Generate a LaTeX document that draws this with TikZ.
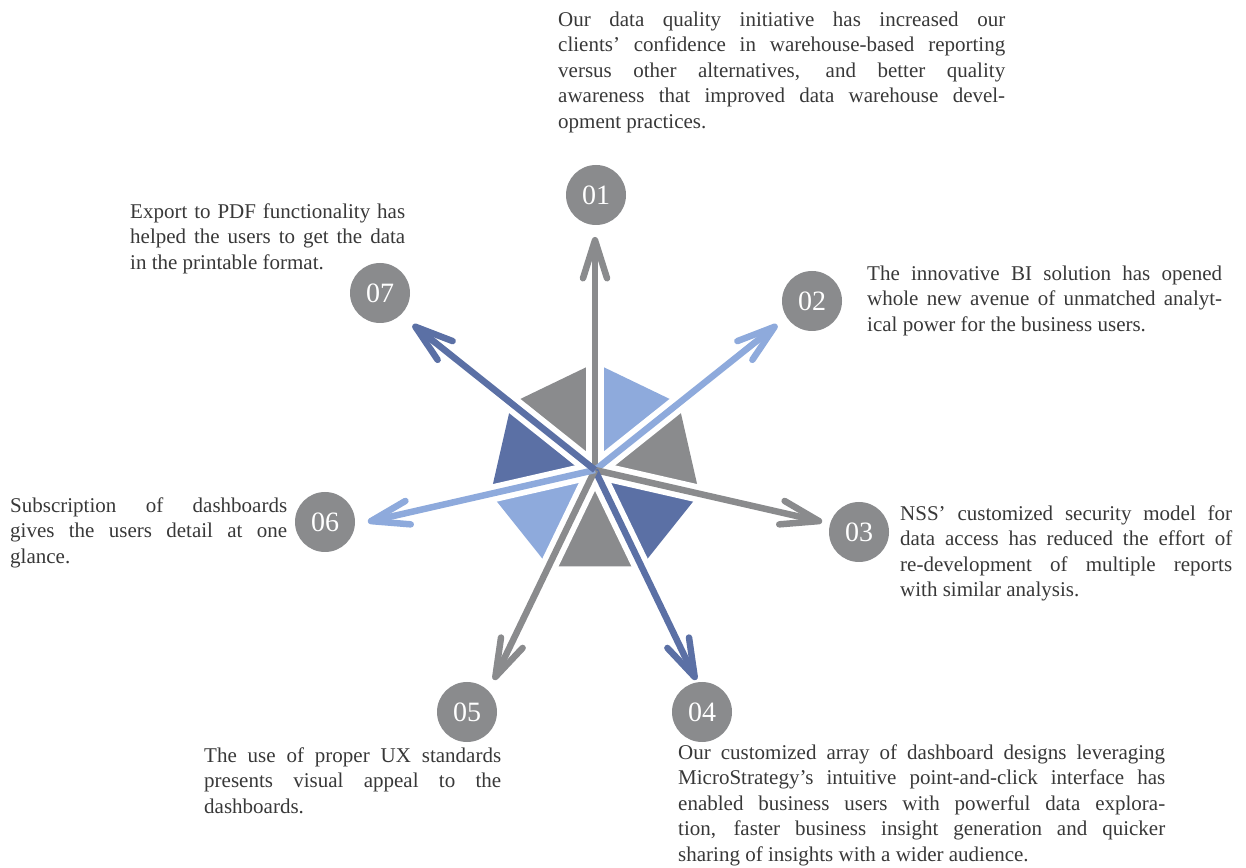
\documentclass[tikz,border=0pt]{standalone}
\usepackage{fontspec}
\setmainfont{Liberation Serif}
\usepackage{tikz}
\usetikzlibrary{arrows.meta, positioning, calc}
\setlength{\parindent}{0pt}

\definecolor{numgray}{HTML}{8A8B8D}
\definecolor{lightblue}{HTML}{8EAADC}
\definecolor{darkblue}{HTML}{5B70A5}
\definecolor{textgray}{HTML}{383838}

\begin{document}
\begin{tikzpicture}[x=1pt,y=1pt,>={Straight Barb[length=38pt,width=24pt,round]}]

	\tikzset{node num/.style={circle, draw=none, fill=numgray,
			minimum size=60pt, inner sep=0pt,
			text=white, font=\fontsize{28}{28}\selectfont}}
	\tikzset{node txt/.style={anchor=north west, inner sep=0pt, align=justify,
			text=textgray, font=\fontsize{21}{25.5}\selectfont}}

	\useasboundingbox (0,0) rectangle (1246,867);

	\coordinate (C) at (595,397);

	\foreach \k/\col in {1/lightblue, 2/numgray, 3/darkblue, 4/numgray, 5/lightblue, 6/darkblue, 7/numgray} {
		\fill[\col] (C) -- ($(C)+({90-(\k-1)*360/7}:107)$) -- ($(C)+({90-\k*360/7}:107)$) -- cycle;
	}

	\foreach \k in {1,...,7} {
		\coordinate (T\k) at ($(C)+({90-(\k-1)*360/7}:233)$);
		\draw[white, line width=18pt] (C) -- ($(C)+({90-(\k-1)*360/7}:125)$);
	}

	\foreach \k/\col in {1/numgray, 2/lightblue, 3/numgray, 4/darkblue, 5/numgray, 6/lightblue, 7/darkblue} {
		\draw[->, \col, line width=6.5pt] (C) -- (T\k);
	}

	\node[node num] (N1) at (596,672) {01};
	\node[node num] (N2) at (812,566) {02};
	\node[node num] (N3) at (859,335) {03};
	\node[node num] (N4) at (702,155) {04};
	\node[node num] (N5) at (467,155) {05};
	\node[node num] (N6) at (325,345) {06};
	\node[node num] (N7) at (380,574) {07};

	\node[node txt, text width=447pt] (D1) at (558,855.5) {Our data quality initiative has increased our\linebreak
		clients' confidence in warehouse-based reporting\linebreak
		versus other alternatives, and better quality\linebreak
		awareness that improved data warehouse devel-\linebreak
		opment practices.};
	\node[node txt, text width=355pt] (D2) at (867,601.5) {The innovative BI solution has opened\linebreak
		whole new avenue of unmatched analyt-\linebreak
		ical power for the business users.};
	\node[node txt, text width=332pt] (D3) at (900,361.5) {NSS' customized security model for\linebreak
		data access has reduced the effort of\linebreak
		re-development of multiple reports\linebreak
		with similar analysis.};
	\node[node txt, text width=487pt] (D4) at (678,122.5) {Our customized array of dashboard designs leveraging\linebreak
		MicroStrategy's intuitive point-and-click interface has\linebreak
		enabled business users with powerful data explora-\linebreak
		tion, faster business insight generation and quicker\linebreak
		sharing of insights with a wider audience.};
	\node[node txt, text width=297pt] (D5) at (204,119.5) {The use of proper UX standards\linebreak
		presents visual appeal to the\linebreak
		dashboards.};
	\node[node txt, text width=277pt] (D6) at (10,369.5) {Subscription of dashboards\linebreak
		gives the users detail at one\linebreak
		glance.};
	\node[node txt, text width=275pt] (D7) at (130,663.5) {Export to PDF functionality has\linebreak
		helped the users to get the data\linebreak
		in the printable format.};

\end{tikzpicture}
\end{document}
